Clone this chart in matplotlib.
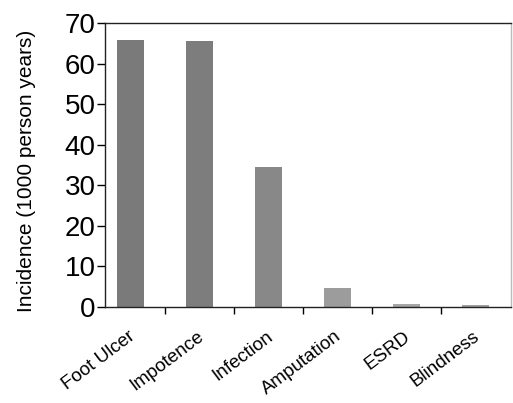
import numpy as np
import matplotlib
matplotlib.use("Agg")
import matplotlib.pyplot as plt
from matplotlib.ticker import FixedLocator
from matplotlib.transforms import ScaledTranslation

plt.rcParams['font.family'] = ['Liberation Sans', 'DejaVu Sans']

# data
categories = ["Foot Ulcer", "Impotence", "Infection", "Amputation", "ESRD", "Blindness"]
incidence = [65.9, 65.6, 34.4, 4.6, 0.7, 0.4]
bar_colors = ["#7a7a7a", "#7d7d7d", "#888888", "#9c9c9c", "#a6a6a6", "#a0a0a0"]
y_ticks = [0, 10, 20, 30, 40, 50, 60, 70]

fig = plt.figure(figsize=(5.13, 4.03), dpi=100)
ax = fig.add_axes([0.205, 0.238, 0.791, 0.705])

x = np.arange(len(categories))
ax.bar(x, incidence, width=0.39, color=bar_colors, edgecolor="none")

ax.set_xlim(-0.37, 5.52)
ax.set_ylim(0, 70)

ax.set_yticks(y_ticks)
ax.tick_params(axis='y', labelsize=20, length=6, width=1, pad=1, direction='out')

ax.set_xticks(x)
ax.set_xticklabels(categories, rotation=37, ha='right', rotation_mode='anchor')
ax.tick_params(axis='x', which='major', length=0, pad=15, labelsize=13.5)
# nudge labels so they end near the bar centre
for lab in ax.get_xticklabels():
    lab.set_transform(lab.get_transform() + ScaledTranslation(-2 / 72, 0, fig.dpi_scale_trans))
ax.xaxis.set_minor_locator(FixedLocator(x[:-1] + 0.5))
ax.tick_params(axis='x', which='minor', length=5, width=1, direction='out')

for side in ['left', 'bottom', 'top']:
    ax.spines[side].set_linewidth(1)
    ax.spines[side].set_color('#222222')
ax.spines['right'].set_color('#bbbbbb')
ax.spines['right'].set_linewidth(1)

ax.set_ylabel("Incidence (1000 person years)", fontsize=15)
ax.yaxis.set_label_coords(-0.17, 0.48)

fig.savefig("out.png", dpi=100)
